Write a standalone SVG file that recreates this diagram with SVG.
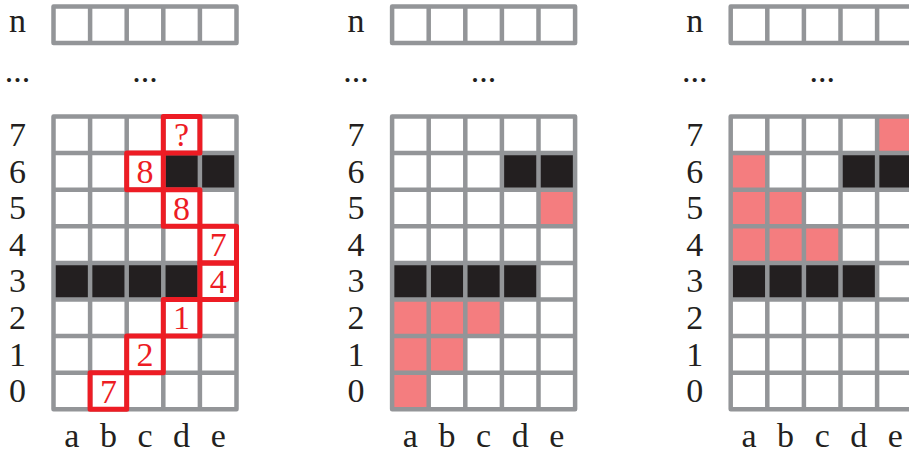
<svg xmlns="http://www.w3.org/2000/svg" xmlns:xlink="http://www.w3.org/1999/xlink" width="909" height="458" viewBox="0 0 909 458" font-family="Liberation Serif, DejaVu Serif, serif">
<style>
.g{fill:none;stroke:#939598;stroke-width:4.5;stroke-linejoin:round;stroke-linecap:square}
.k{fill:#231f20}
.p{fill:#f47d7f}
.r{fill:none;stroke:#ed1c24;stroke-width:5;stroke-linejoin:round}
.t{font-size:34px;fill:#231f20;text-anchor:middle}
.rt{font-size:34px;fill:#ed1c24;text-anchor:middle}
</style>
<defs>
<path id="lines" class="g" d="M0,0H183V292.8H0Z M36.6,0V292.8 M73.2,0V292.8 M109.8,0V292.8 M146.4,0V292.8 M0,36.6H183 M0,73.2H183 M0,109.8H183 M0,146.4H183 M0,183H183 M0,219.6H183 M0,256.2H183"/>
<path id="nrow" class="g" d="M0,0H183V36.6H0Z M36.6,0V36.6 M73.2,0V36.6 M109.8,0V36.6 M146.4,0V36.6"/>
<g id="black">
<rect class="k" x="109.8" y="36.6" width="36.6" height="36.6"/>
<rect class="k" x="146.4" y="36.6" width="36.6" height="36.6"/>
<rect class="k" x="0" y="146.4" width="36.6" height="36.6"/>
<rect class="k" x="36.6" y="146.4" width="36.6" height="36.6"/>
<rect class="k" x="73.2" y="146.4" width="36.6" height="36.6"/>
<rect class="k" x="109.8" y="146.4" width="36.6" height="36.6"/>
</g>
<g id="labels" font-family="Liberation Serif, DejaVu Serif, serif">
<text class="t" x="-36" y="31.7">n</text>
<text class="t" x="-36" y="82">...</text>
<text class="t" x="91.5" y="82">...</text>
<text class="t" x="-36" y="146">7</text>
<text class="t" x="-36" y="182.6">6</text>
<text class="t" x="-36" y="219.2">5</text>
<text class="t" x="-36" y="255.8">4</text>
<text class="t" x="-36" y="292.4">3</text>
<text class="t" x="-36" y="329">2</text>
<text class="t" x="-36" y="365.6">1</text>
<text class="t" x="-36" y="402.2">0</text>
<text class="t" x="18.3" y="447">a</text>
<text class="t" x="54.9" y="447">b</text>
<text class="t" x="91.5" y="447">c</text>
<text class="t" x="128.1" y="447">d</text>
<text class="t" x="164.7" y="447">e</text>
</g>
</defs>
<g id="panel1" transform="translate(53.5,0)">
<use xlink:href="#labels"/>
<use xlink:href="#nrow" y="6.5"/>
<g id="grid1" transform="translate(0,116.5)">
<use xlink:href="#black"/>
<use xlink:href="#lines"/>
<g id="path1">
<rect class="r" x="109.8" y="0" width="36.6" height="36.6"/>
<rect class="r" x="73.2" y="36.6" width="36.6" height="36.6"/>
<rect class="r" x="109.8" y="73.2" width="36.6" height="36.6"/>
<rect class="r" x="146.4" y="109.8" width="36.6" height="36.6"/>
<rect class="r" x="146.4" y="146.4" width="36.6" height="36.6"/>
<rect class="r" x="109.8" y="183" width="36.6" height="36.6"/>
<rect class="r" x="73.2" y="219.6" width="36.6" height="36.6"/>
<rect class="r" x="36.6" y="256.2" width="36.6" height="36.6"/>
<text class="rt" x="128.1" y="29.8">?</text>
<text class="rt" x="91.5" y="66.4">8</text>
<text class="rt" x="128.1" y="103">8</text>
<text class="rt" x="164.7" y="139.6">7</text>
<text class="rt" x="164.7" y="176.2">4</text>
<text class="rt" x="128.1" y="212.8">1</text>
<text class="rt" x="91.5" y="249.4">2</text>
<text class="rt" x="54.9" y="286">7</text>
</g>
</g>
</g>
<g id="panel2" transform="translate(392.1,0)">
<use xlink:href="#labels"/>
<use xlink:href="#nrow" y="6.5"/>
<g id="grid2" transform="translate(0,116.5)">
<use xlink:href="#black"/>
<rect class="p" x="146.4" y="73.2" width="36.6" height="36.6"/>
<rect class="p" x="0" y="183" width="36.6" height="36.6"/>
<rect class="p" x="36.6" y="183" width="36.6" height="36.6"/>
<rect class="p" x="73.2" y="183" width="36.6" height="36.6"/>
<rect class="p" x="0" y="219.6" width="36.6" height="36.6"/>
<rect class="p" x="36.6" y="219.6" width="36.6" height="36.6"/>
<rect class="p" x="0" y="256.2" width="36.6" height="36.6"/>
<use xlink:href="#lines"/>
</g>
</g>
<g id="panel3" transform="translate(730.7,0)">
<use xlink:href="#labels"/>
<use xlink:href="#nrow" y="6.5"/>
<g id="grid3" transform="translate(0,116.5)">
<use xlink:href="#black"/>
<rect class="p" x="146.4" y="0" width="36.6" height="36.6"/>
<rect class="p" x="0" y="36.6" width="36.6" height="36.6"/>
<rect class="p" x="0" y="73.2" width="36.6" height="36.6"/>
<rect class="p" x="36.6" y="73.2" width="36.6" height="36.6"/>
<rect class="p" x="0" y="109.8" width="36.6" height="36.6"/>
<rect class="p" x="36.6" y="109.8" width="36.6" height="36.6"/>
<rect class="p" x="73.2" y="109.8" width="36.6" height="36.6"/>
<use xlink:href="#lines"/>
</g>
</g>
</svg>
